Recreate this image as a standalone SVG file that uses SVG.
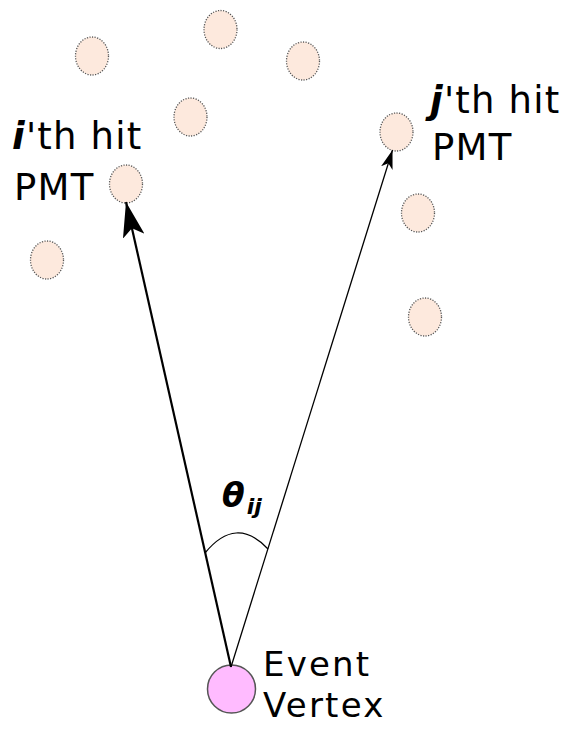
<svg xmlns="http://www.w3.org/2000/svg" width="568" height="731" viewBox="0 0 568 731">
<style>
.pmt{fill:#fde9dd;stroke:#555;stroke-width:1.3;stroke-dasharray:1.2 1.4}
.lbl{font-family:"DejaVu Sans",sans-serif;font-size:37px;letter-spacing:1.2px;fill:#000}
.vl{font-size:34px;letter-spacing:2.2px}
.bi{font-weight:bold;font-style:italic}
</style>
<defs>
<marker id="ahL" viewBox="0 0 35 22" refX="35" refY="11" markerWidth="35" markerHeight="22" markerUnits="userSpaceOnUse" orient="auto"><path d="M0,0 L35,11 L0,22 L8,11 Z" fill="#000"/></marker>
<marker id="ahR" viewBox="0 0 19 12" refX="19" refY="6" markerWidth="19" markerHeight="12" markerUnits="userSpaceOnUse" orient="auto"><path d="M0,0 L19,6 L0,12 L5,6 Z" fill="#000"/></marker>
</defs>
<g id="pmts">
<ellipse class="pmt" cx="92" cy="56" rx="16.5" ry="19"/>
<ellipse class="pmt" cx="220.5" cy="29.5" rx="16.5" ry="19"/>
<ellipse class="pmt" cx="303" cy="61" rx="16.5" ry="19"/>
<ellipse class="pmt" cx="190.5" cy="117" rx="16.5" ry="19"/>
<ellipse class="pmt" cx="47" cy="260" rx="16.5" ry="19"/>
<ellipse class="pmt" cx="418" cy="213" rx="16.5" ry="19"/>
<ellipse class="pmt" cx="425" cy="317" rx="16.5" ry="19"/>
</g>
<g id="pmt-i">
<ellipse class="pmt" cx="126" cy="184" rx="16.5" ry="19"/>
<text class="lbl" x="12" y="149"><tspan class="bi">i</tspan>'th hit</text>
<text class="lbl" x="14" y="200">PMT</text>
</g>
<g id="pmt-j">
<ellipse class="pmt" cx="396.5" cy="132" rx="16.5" ry="19"/>
<text class="lbl" x="430" y="113"><tspan class="bi">j</tspan>'th hit</text>
<text class="lbl" x="432" y="160">PMT</text>
</g>
<g id="vertex">
<circle cx="231.5" cy="689" r="24" fill="#ffbbff" stroke="#555" stroke-width="1.5"/>
<text class="lbl vl" x="263" y="676">Event</text>
<text class="lbl vl" x="263" y="717">Vertex</text>
</g>
<g id="connectors">
<line x1="231" y1="667" x2="126" y2="202" stroke="#000" stroke-width="2.2" marker-end="url(#ahL)"/>
<line x1="231" y1="667" x2="392.5" y2="150" stroke="#000" stroke-width="1.3" marker-end="url(#ahR)"/>
<path d="M205,553 Q236,515 268,549" fill="none" stroke="#000" stroke-width="1.2"/>
</g>
<g id="angle">
<text x="222" y="507" font-family="DejaVu Sans,sans-serif" font-size="33" font-weight="bold" font-style="italic">θ<tspan font-size="22" dx="2" dy="7">ij</tspan></text>
</g>
</svg>
